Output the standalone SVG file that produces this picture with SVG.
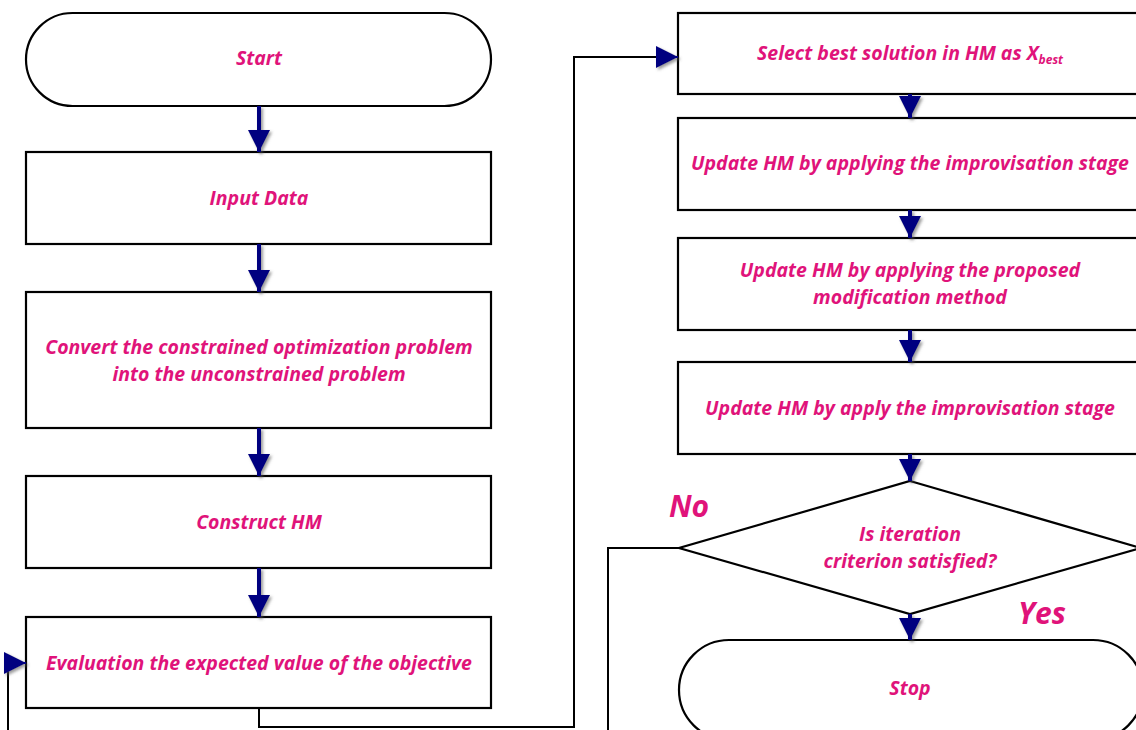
<svg xmlns="http://www.w3.org/2000/svg" width="1136" height="730" viewBox="0 0 1136 730">
<defs>
<style>
.box{fill:#fff;stroke:#000;stroke-width:2.2}
.t{font-family:"Open Sans","Noto Sans",sans-serif;font-weight:bold;font-style:italic;font-size:19.5px;fill:#E0137A;text-anchor:middle}
.lbl{font-family:"Open Sans","Noto Sans",sans-serif;font-weight:bold;font-style:italic;font-size:30px;fill:#E0137A;text-anchor:middle}
.flow{fill:none;stroke:#000080;stroke-width:4;filter:url(#sh)}
.line{fill:none;stroke:#000;stroke-width:2}
.hook{fill:none;stroke:#000080;stroke-width:2;filter:url(#sh)}
</style>
<filter id="sh" filterUnits="userSpaceOnUse" x="0" y="0" width="1136" height="730">
<feDropShadow dx="2" dy="2" stdDeviation="1.5" flood-color="#555" flood-opacity="0.6"/>
</filter>
<marker id="ah" viewBox="0 0 10 10" refX="10" refY="5" markerWidth="5.5" markerHeight="5.5" orient="auto" markerUnits="strokeWidth">
<path d="M0,0 L10,5 L0,10 Z" fill="#000080"/>
</marker>
<marker id="ah2" viewBox="0 0 10 10" refX="10" refY="5" markerWidth="11" markerHeight="11" orient="auto" markerUnits="strokeWidth">
<path d="M0,0 L10,5 L0,10 Z" fill="#000080"/>
</marker>
</defs>

<g id="start">
<rect class="box" x="26" y="13" width="465" height="93" rx="46.5"/>
<text class="t" x="259" y="65">Start</text>
</g>
<g id="input">
<rect class="box" x="26" y="152" width="465" height="92"/>
<text class="t" x="259" y="205">Input Data</text>
</g>
<g id="convert">
<rect class="box" x="26" y="292" width="465" height="136"/>
<text class="t" x="259" y="354">Convert the constrained optimization problem</text>
<text class="t" x="259" y="380.5">into the unconstrained problem</text>
</g>
<g id="construct">
<rect class="box" x="26" y="476" width="465" height="92"/>
<text class="t" x="259" y="529">Construct HM</text>
</g>
<g id="evaluation">
<rect class="box" x="26" y="617" width="465" height="91"/>
<text class="t" x="259" y="670">Evaluation the expected value of the objective</text>
</g>

<g id="select">
<rect class="box" x="678" y="13" width="466" height="81"/>
<text class="t" x="910" y="60">Select best solution in HM as X<tspan font-size="12" dy="4">best</tspan></text>
</g>
<g id="update1">
<rect class="box" x="678" y="118" width="466" height="92"/>
<text class="t" x="910" y="170">Update HM by applying the improvisation stage</text>
</g>
<g id="update2">
<rect class="box" x="678" y="238" width="466" height="92"/>
<text class="t" x="910" y="277">Update HM by applying the proposed</text>
<text class="t" x="910" y="303.5">modification method</text>
</g>
<g id="update3">
<rect class="box" x="678" y="362" width="466" height="92"/>
<text class="t" x="910" y="415">Update HM by apply the improvisation stage</text>
</g>
<g id="decision">
<polygon class="box" points="910,481 1141,548 910,614 679,548"/>
<text class="t" x="910" y="541">Is iteration</text>
<text class="t" x="910" y="567.5">criterion satisfied?</text>
</g>
<g id="stop">
<rect class="box" x="679" y="640" width="464" height="100" rx="50"/>
<text class="t" x="910" y="695">Stop</text>
</g>
<g id="labels">
<text class="lbl" x="689" y="517">No</text>
<text class="lbl" x="1042" y="624">Yes</text>
</g>

<g id="connectors">
<path class="flow" d="M259,106 V152" marker-end="url(#ah)"/>
<path class="flow" d="M259,244 V292" marker-end="url(#ah)"/>
<path class="flow" d="M259,428 V476" marker-end="url(#ah)"/>
<path class="flow" d="M259,568 V617" marker-end="url(#ah)"/>
<path class="line" d="M259,708 V727 H574 V57 H660"/>
<path class="hook" d="M658,57 H678" marker-end="url(#ah2)"/>
<path class="flow" d="M910,94 V118" marker-end="url(#ah)"/>
<path class="flow" d="M910,210 V238" marker-end="url(#ah)"/>
<path class="flow" d="M910,330 V362" marker-end="url(#ah)"/>
<path class="flow" d="M910,454 V481" marker-end="url(#ah)"/>
<path class="flow" d="M910,614 V640" marker-end="url(#ah)"/>
<path class="line" d="M679,548 H608 V745 H8 V663 H12"/>
<path class="hook" d="M8,663 H26" marker-end="url(#ah2)"/>
</g>
</svg>
